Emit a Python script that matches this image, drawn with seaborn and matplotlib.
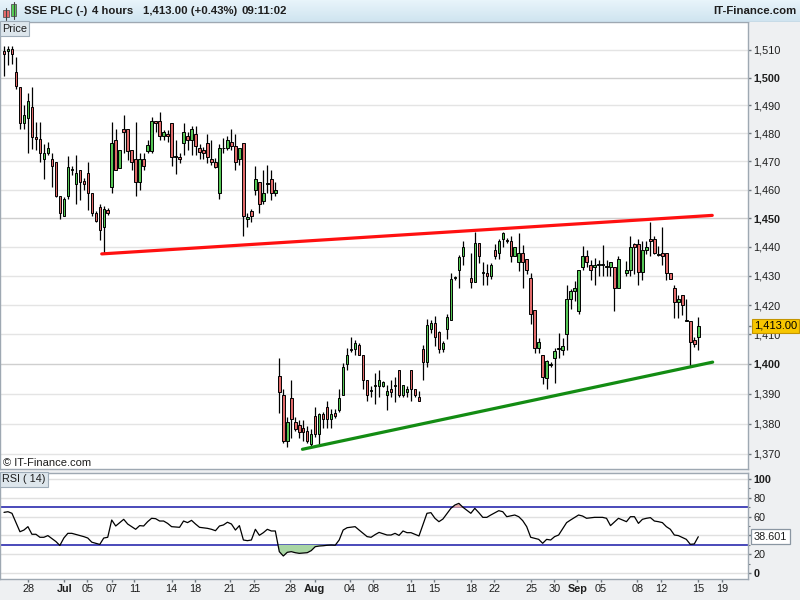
import numpy as np
import pandas as pd
import matplotlib
matplotlib.use("Agg")
import matplotlib.pyplot as plt
import seaborn as sns
from matplotlib.ticker import NullLocator, FixedLocator
from matplotlib.patches import Rectangle
from matplotlib.colors import LinearSegmentedColormap

nan = np.nan

# ---------------- data (4-hour candles, slot index = position in time) ----------------
opens = [1509.7, 1509.6, 1510.3, 1502.1, 1496.4, 1483.7, 1485.3, 1489.4, 1478.8, 1477.8,
         1470.8, 1472.8, 1470.8, 1469.7, 1457.9, 1450.7, 1457.7, 1467.0, 1462.0, 1467.0,
         1462.9, 1465.8, 1458.8, 1452.0, 1453.9, 1446.9, 1452.9, 1460.9, 1477.7, 1467.8,
         1481.6, 1481.6, 1474.0, 1470.7, 1462.6, 1470.7, 1473.8, 1473.8, 1484.5, 1484.5,
         1478.9, 1479.7, 1483.7, 1471.7, 1471.7, 1476.6, 1478.9, 1477.7, 1479.6, 1474.6,
         1474.0, 1476.7, 1470.7, 1469.9, 1458.8, 1474.6, 1474.6, 1476.8, 1475.6, 1470.7,
         1476.7, 1449.7, 1452.6, 1459.8, 1462.7, 1455.9, 1462.0, 1463.7, 1458.8, 1395.9,
         1389.6, 1374.3, 1388.6, 1380.6, 1379.4, 1378.4, 1377.5, 1373.3, 1382.4, 1376.4,
         1383.2, 1385.4, 1381.5, 1383.7, 1384.5, 1389.6, 1399.9, 1404.7, 1404.9, 1406.4,
         1403.0, 1394.7, 1391.0, 1392.7, 1392.6, 1392.6, 1389.6, 1391.7, 1392.7, 1397.9,
         1389.6, 1390.5, 1397.9, 1391.7, 1388.8, 1405.0, 1400.8, 1411.9, 1414.0, 1410.9,
         1405.1, 1411.9, 1414.9, 1429.2, 1432.0, 1436.8, nan, 1429.2, 1428.0, 1441.4,
         1431.1, 1431.1, 1430.0, 1439.1, 1438.0, 1442.6, 1442.3, 1442.2, 1436.8, 1434.9,
         1438.0, 1435.9, 1429.2, 1418.2, 1405.4, 1403.1, 1395.4, 1399.7, 1402.0, 1405.2,
         1404.8, 1410.0, 1422.1, 1424.7, 1417.8, 1433.1, 1436.8, 1433.8, 1433.1, 1433.7,
         1433.7, 1433.1, 1433.1, 1433.1, 1425.9, nan, 1431.0, 1432.2, 1441.0, 1441.1,
         1431.2, 1439.1, 1442.9, 1442.9, 1437.1, 1437.9, 1437.9, 1431.0, 1425.9, 1420.9,
         1423.3, 1414.7, 1414.7, 1408.1, 1409.0]
highs = [1511.5, 1511.5, 1511.5, 1507.6, 1496.6, 1490.0, 1494.4, 1496.4, 1483.9, 1483.9,
         1476.1, 1476.8, 1472.8, 1469.7, 1457.9, 1457.5, 1471.9, 1468.2, 1472.3, 1467.0,
         1464.1, 1469.7, 1458.8, 1452.4, 1455.1, 1454.2, 1453.6, 1483.9, 1481.6, 1474.0,
         1486.6, 1481.6, 1474.0, 1483.9, 1472.8, 1472.8, 1477.7, 1485.7, 1484.5, 1487.6,
         1481.2, 1481.0, 1483.7, 1477.5, 1472.8, 1483.6, 1480.4, 1482.7, 1482.7, 1476.3,
         1475.2, 1479.8, 1477.5, 1471.1, 1476.3, 1478.4, 1478.9, 1481.6, 1479.8, 1474.6,
         1476.7, 1451.8, 1453.2, 1468.2, 1462.7, 1467.0, 1468.7, 1467.0, 1462.8, 1401.9,
         1391.7, 1382.3, 1394.7, 1382.3, 1381.1, 1381.1, 1379.2, 1378.1, 1385.7, 1383.7,
         1384.0, 1387.7, 1384.9, 1384.9, 1391.7, 1400.2, 1405.3, 1409.2, 1408.1, 1407.2,
         1403.0, 1394.7, 1392.5, 1396.8, 1397.9, 1394.3, 1392.8, 1394.7, 1395.6, 1397.9,
         1392.8, 1392.5, 1397.9, 1391.7, 1390.8, 1406.5, 1415.1, 1414.9, 1416.3, 1411.2,
         1407.7, 1417.1, 1431.1, 1430.0, 1437.1, 1442.2, nan, 1438.0, 1445.2, 1441.4,
         1434.9, 1434.0, 1434.6, 1441.1, 1442.6, 1445.2, 1443.1, 1443.7, 1440.0, 1444.8,
         1440.8, 1435.9, 1431.1, 1418.2, 1408.8, 1403.1, 1401.4, 1400.8, 1405.4, 1410.6,
         1408.6, 1427.0, 1425.6, 1428.2, 1432.2, 1440.2, 1439.1, 1435.6, 1436.2, 1435.6,
         1440.8, 1435.6, 1434.8, 1433.1, 1436.8, nan, 1435.1, 1443.7, 1441.4, 1442.9,
         1442.0, 1442.0, 1448.8, 1443.7, 1440.2, 1447.1, 1437.9, 1431.0, 1426.8, 1423.3,
         1423.3, 1422.1, 1414.7, 1409.0, 1415.9]
lows = [1500.7, 1504.5, 1505.0, 1495.9, 1481.6, 1481.6, 1472.8, 1474.3, 1474.0, 1469.9,
        1463.7, 1472.3, 1460.9, 1457.5, 1449.7, 1450.7, 1456.7, 1465.3, 1455.1, 1456.5,
        1460.0, 1453.0, 1450.7, 1448.6, 1442.5, 1437.8, 1451.2, 1458.8, 1467.0, 1467.8,
        1472.8, 1470.5, 1467.0, 1457.7, 1459.8, 1467.0, 1472.8, 1472.8, 1480.4, 1477.7,
        1477.7, 1477.0, 1468.2, 1465.6, 1469.6, 1472.2, 1474.0, 1472.2, 1472.2, 1470.7,
        1470.7, 1469.3, 1468.7, 1467.6, 1456.7, 1472.8, 1474.0, 1474.0, 1466.8, 1468.7,
        1443.7, 1446.9, 1448.6, 1458.2, 1451.8, 1455.1, 1458.8, 1456.5, 1457.7, 1383.4,
        1373.5, 1372.4, 1375.2, 1377.5, 1375.2, 1374.1, 1373.5, 1372.4, 1375.5, 1373.0,
        1378.6, 1378.6, 1378.4, 1382.0, 1384.0, 1389.6, 1397.9, 1404.1, 1403.0, 1403.0,
        1391.7, 1387.5, 1388.8, 1386.6, 1388.8, 1392.2, 1384.5, 1388.8, 1387.1, 1388.8,
        1388.8, 1388.8, 1387.4, 1388.8, 1387.7, 1394.6, 1398.8, 1410.6, 1406.0, 1403.7,
        1403.9, 1408.3, 1414.9, 1428.6, 1426.0, 1433.6, nan, 1426.0, 1428.0, 1434.6,
        1426.8, 1426.8, 1429.1, 1435.7, 1435.7, 1440.0, 1441.4, 1434.9, 1436.8, 1431.7,
        1426.0, 1430.6, 1413.6, 1403.7, 1403.7, 1393.4, 1391.7, 1398.8, 1393.7, 1402.0,
        1402.9, 1404.6, 1418.6, 1421.3, 1416.9, 1432.2, 1433.0, 1428.7, 1426.8, 1429.9,
        1429.9, 1429.9, 1429.9, 1417.8, 1425.9, nan, 1429.9, 1429.9, 1430.5, 1427.0,
        1428.7, 1437.4, 1436.8, 1437.4, 1436.8, 1433.9, 1428.7, 1429.0, 1415.5, 1415.5,
        1416.7, 1414.4, 1399.2, 1405.7, 1404.6]
closes = [1508.5, 1510.2, 1508.5, 1496.9, 1483.6, 1486.6, 1491.5, 1478.7, 1477.8, 1472.8,
          1472.8, 1474.7, 1468.5, 1457.7, 1451.8, 1456.7, 1467.9, 1467.1, 1465.8, 1462.7,
          1462.0, 1458.8, 1451.8, 1448.9, 1445.8, 1453.2, 1451.8, 1476.7, 1467.0, 1474.0,
          1480.4, 1473.8, 1469.7, 1462.6, 1470.7, 1468.5, 1475.8, 1484.5, 1483.8, 1478.9,
          1480.4, 1478.9, 1471.7, 1471.9, 1470.7, 1480.4, 1477.7, 1481.6, 1475.5, 1473.2,
          1472.8, 1471.7, 1469.7, 1467.9, 1474.6, 1474.8, 1477.7, 1475.5, 1469.7, 1474.6,
          1450.7, 1450.4, 1450.7, 1463.7, 1455.0, 1458.8, 1462.2, 1458.8, 1460.0, 1390.5,
          1374.3, 1380.6, 1381.5, 1378.3, 1377.3, 1377.3, 1374.1, 1376.4, 1376.4, 1383.2,
          1381.5, 1381.5, 1383.2, 1382.6, 1388.6, 1399.0, 1403.0, 1404.9, 1407.0, 1403.0,
          1394.7, 1389.6, 1391.2, 1392.9, 1394.7, 1393.9, 1390.8, 1390.5, 1392.9, 1389.6,
          1392.8, 1391.7, 1391.7, 1389.6, 1387.7, 1400.8, 1413.1, 1414.0, 1409.2, 1405.1,
          1407.1, 1416.0, 1429.1, 1429.4, 1436.6, 1440.0, nan, 1428.0, 1441.4, 1436.8,
          1431.3, 1430.0, 1433.8, 1436.8, 1442.2, 1444.8, 1442.1, 1436.8, 1440.0, 1438.0,
          1434.9, 1432.0, 1417.1, 1405.4, 1407.4, 1395.7, 1401.1, 1399.9, 1404.3, 1405.3,
          1406.0, 1422.1, 1424.7, 1425.9, 1432.2, 1436.8, 1434.8, 1432.2, 1433.8, 1433.8,
          1433.8, 1433.2, 1434.8, 1425.9, 1436.0, nan, 1432.2, 1440.0, 1440.0, 1431.2,
          1439.1, 1440.0, 1442.0, 1437.9, 1437.2, 1436.8, 1431.0, 1429.0, 1421.0, 1422.1,
          1420.1, 1414.8, 1407.3, 1406.9, 1413.0]

# RSI(14): slot index and value
rsi_idx = [0, 1, 2, 4, 5, 6, 7, 8, 9, 10, 11, 13, 14, 15, 16, 17, 19, 20, 21, 22,
           24, 25, 26, 27, 28, 29, 30, 31, 33, 34, 35, 36, 37, 38, 39, 40, 41, 42, 44, 45,
           46, 47, 48, 49, 51, 52, 53, 54, 55, 56, 57, 58, 59, 60, 61, 62, 63, 64, 65, 66,
           67, 68, 69, 70, 71, 72, 73, 74, 76, 77, 78, 79, 80, 81, 82, 83, 84, 85, 86, 88,
           89, 91, 92, 93, 94, 96, 97, 98, 99, 100, 101, 102, 104, 106, 107, 108, 109, 110, 112, 113,
           114, 115, 117, 118, 119, 120, 121, 122, 124, 125, 126, 128, 129, 130, 131, 132, 134, 135, 136, 137,
           138, 139, 141, 142, 144, 145, 146, 148, 150, 151, 152, 154, 155, 156, 157, 158, 159, 160, 161, 162,
           163, 164, 165, 166, 167, 168, 169, 171, 172, 173, 174]
rsi_val = [64.5, 65.2, 63.5, 43.9, 45.7, 49.3, 41.2, 41.2, 38.0, 38.0, 39.8, 33.5, 29.3, 37.2, 42.2, 42.2, 39.8, 38.7, 37.2, 32.8,
           30.4, 37.2, 38.0, 56.4, 50.0, 53.6, 57.1, 52.1, 46.5, 50.4, 50.0, 54.6, 58.2, 57.8, 55.3, 55.3, 52.8, 49.3, 48.6, 55.3,
           53.6, 56.0, 52.1, 48.6, 47.5, 46.5, 45.0, 50.0, 51.1, 54.0, 52.1, 45.7, 50.4, 35.1, 34.4, 35.1, 46.5, 40.1, 42.9, 46.5,
           44.7, 44.7, 22.7, 18.1, 22.0, 22.7, 21.6, 20.9, 21.6, 23.8, 28.0, 28.7, 29.0, 29.5, 29.8, 29.5, 35.1, 45.7, 48.2, 49.3,
           45.7, 38.7, 38.0, 40.8, 43.2, 40.4, 40.4, 42.2, 40.0, 44.7, 42.9, 42.9, 39.4, 63.5, 64.2, 58.2, 54.6, 57.4, 68.8, 72.3,
           74.1, 70.0, 63.5, 68.8, 64.2, 59.2, 59.2, 61.7, 66.3, 65.2, 59.9, 61.7, 59.9, 55.7, 49.3, 38.0, 35.8, 31.6, 35.8, 35.1,
           38.7, 40.4, 53.6, 56.4, 61.7, 60.6, 58.2, 59.2, 59.2, 58.2, 50.4, 58.2, 56.4, 54.6, 59.9, 59.9, 52.8, 57.1, 58.2, 58.9,
           55.3, 54.6, 53.6, 49.3, 46.5, 40.4, 39.8, 35.8, 30.5, 30.9, 38.6]
rsi_last = 38.601

# hand-drawn trend lines (slot index, price)
res_x = [24.5, 177.5]
res_y = [1437.6, 1451.0]
sup_x = [74.8, 177.6]
sup_y = [1371.5, 1400.6]

price_ticks = [1370, 1380, 1390, 1400, 1410, 1420, 1430, 1440, 1450, 1460, 1470, 1480, 1490, 1500, 1510]
date_pos = [6.1, 15.1, 20.9, 27.0, 32.7, 42.0, 47.9, 56.6, 62.7, 71.7, 77.9, 86.7, 92.6,
            101.9, 107.8, 117.0, 122.9, 132.1, 137.9, 143.7, 149.6, 158.7, 164.6, 173.9, 179.9]
date_labels = ["28", "Jul", "05", "07", "11", "14", "18", "21", "25", "28", "Aug", "04", "08",
               "11", "15", "18", "22", "25", "30", "Sep", "05", "08", "12", "15", "19"]
month_labels = {"Jul", "Aug", "Sep"}

title_parts = ["SSE PLC (-)", "4 hours", "1,413.00 (+0.43%)", "09:11:02"]

# ---------------- style ----------------
sns.set_theme(style="white")
plt.rcParams['font.family'] = ['Liberation Sans', 'DejaVu Sans']
plt.rcParams['axes.linewidth'] = 1.0

BG = '#eef0f2'
SPINE = '#9ea8b2'
TXT = '#1e1e1e'
GREEN = '#55c655'
RED = '#e06a6a'
FS = 7.8

fig = plt.figure(figsize=(8, 6), dpi=100, facecolor=BG)
ax = fig.add_axes([0.0, 1 - 469 / 600, 748 / 800, 447 / 600])
ax2 = fig.add_axes([0.0, 1 - 579.3 / 600, 748 / 800, 106.6 / 600])

xlim = (-1.0, 186.46)

# ---------------- price panel ----------------
ax.set_facecolor('white')
ax.set_yscale('log')
ax.set_ylim(1365.0, 1520.2)
ax.set_xlim(*xlim)

for v in price_ticks:
    ax.axhline(v, color='#cfcfcf' if v % 50 == 0 else '#e4e4e4', lw=1.0, zorder=0)

df = pd.DataFrame(dict(i=np.arange(len(opens)), o=opens, h=highs, l=lows, c=closes)).dropna()
up = df.c >= df.o
body_lo = np.minimum(df.o, df.c)
body_h = np.maximum((df.c - df.o).abs(), 0.3)
ax.vlines(df.i, df.l, df.h, color='black', lw=0.9, zorder=2)
ax.bar(df.i[up], body_h[up], bottom=body_lo[up], width=0.62, color=GREEN,
       edgecolor='black', linewidth=0.7, zorder=3)
ax.bar(df.i[~up], body_h[~up], bottom=body_lo[~up], width=0.62, color=RED,
       edgecolor='black', linewidth=0.7, zorder=3)

sns.lineplot(x=res_x, y=res_y, ax=ax, color='#ff1010', lw=2.3, zorder=4)
sns.lineplot(x=sup_x, y=sup_y, ax=ax, color='#138c13', lw=2.3, zorder=4)

ax.yaxis.tick_right()
ax.set_yticks(price_ticks + [closes[-1]],
              labels=[f"{v:,}" for v in price_ticks] + [""])
ax.yaxis.set_minor_locator(NullLocator())
for lbl, v in zip(ax.get_yticklabels(), price_ticks):
    if v % 50 == 0:
        lbl.set_fontweight('bold')
ax.tick_params(axis='y', which='major', direction='out', length=2.4, width=1,
               color='#6f7880', labelsize=FS, labelcolor=TXT, pad=1.3, right=True, left=False)
ax.set_xticks([])
ax.set_xlabel('')
ax.set_ylabel('')
for s in ax.spines.values():
    s.set_color(SPINE)

ax.annotate(f"{closes[-1]:,.2f}", xy=(1.0, closes[-1]), xycoords=('axes fraction', 'data'),
            xytext=(4.2, 0), textcoords='offset points', ha='left', va='center',
            fontsize=8, color='black', annotation_clip=False, zorder=20,
            bbox=dict(boxstyle='square,pad=0.18', fc='#f7c600', ec='#c49500', lw=0.8))

# ---------------- RSI panel ----------------
ax2.set_facecolor('white')
ax2.set_xlim(*xlim)
ax2.set_ylim(-6.7, 106.7)
for v in [0, 20, 40, 60, 80, 100]:
    ax2.axhline(v, color='#e0e0e0', lw=1.0, zorder=0)
ax2.axhline(70, color='#2a2aae', lw=1.2, zorder=1)
ax2.axhline(30, color='#2a2aae', lw=1.2, zorder=1)

r = np.array(rsi_val)
ri = np.array(rsi_idx, dtype=float)
ax2.fill_between(ri, r, 30, where=r < 30, interpolate=True, color='#a9d6a4', lw=0, zorder=1)
ax2.fill_between(ri, r, 70, where=r > 70, interpolate=True, color='#e3a9a9', lw=0, zorder=1)
sns.lineplot(x=ri, y=r, ax=ax2, color='black', lw=0.9, estimator=None, sort=False, zorder=3)

ax2.yaxis.tick_right()
ax2.set_yticks([0, 20, 40, 60, 80, 100], labels=['0', '20', '', '60', '80', '100'])
ax2.yaxis.set_minor_locator(FixedLocator([10, 30, 50, 70, 90]))
for lbl in ax2.get_yticklabels():
    if lbl.get_text() in ('0', '100'):
        lbl.set_fontweight('bold')
ax2.tick_params(axis='y', which='major', direction='out', length=2.4, width=1,
                color='#6f7880', labelsize=FS, labelcolor=TXT, pad=1.3, right=True, left=False)
ax2.tick_params(axis='y', which='minor', direction='out', length=1.6, width=0.8,
                color='#6f7880', right=True, left=False)
ax2.set_xticks(date_pos, labels=date_labels)
for lbl in ax2.get_xticklabels():
    if lbl.get_text() in month_labels:
        lbl.set_fontweight('bold')
ax2.tick_params(axis='x', direction='out', length=2.2, width=1, color='#6f7880',
                labelsize=FS, labelcolor=TXT, pad=1.5, bottom=True)
ax2.set_xlabel('')
ax2.set_ylabel('')
for s in ax2.spines.values():
    s.set_color(SPINE)

ax2.annotate(f"{rsi_last:.3f}", xy=(1.0, rsi_last), xycoords=('axes fraction', 'data'),
             xytext=(4.2, 0), textcoords='offset points', ha='left', va='center',
             fontsize=FS, color=TXT, annotation_clip=False, zorder=20,
             bbox=dict(boxstyle='square,pad=0.22', fc='white', ec='#8a96a2', lw=0.9))

# ---------------- chrome: title bar and panel captions (pixel coordinates) ----------------
axt = fig.add_axes([0, 1 - 22 / 600, 1, 22 / 600])
grad = np.linspace(0, 1, 22)[:, None]
axt.imshow(grad, aspect='auto', extent=[0, 800, 22, 0],
           cmap=LinearSegmentedColormap.from_list('bar', ['#e8f4fa', '#cfe4f0']))
axt.set_xlim(0, 800)
axt.set_ylim(22, 0)
axt.axis('off')
axt.axhline(21.5, color='#a9b9c4', lw=1)
# small candle icon
axt.plot([6, 6], [8, 20], color='#444444', lw=0.8)
axt.add_patch(Rectangle((3.3, 10), 5.4, 6.7, fc='#e86a6a', ec='#555555', lw=0.6))
axt.plot([13.5, 13.5], [2, 19], color='#444444', lw=0.8)
axt.add_patch(Rectangle((11, 4), 5, 12, fc='#55d055', ec='#555555', lw=0.6))
for xpos, txt in zip([24, 92, 143, 241], title_parts):
    axt.text(xpos, 11.5, txt, ha='left', va='center', fontsize=8.2, fontweight='bold', color=TXT)
axt.text(797, 11.5, "IT-Finance.com", ha='right', va='center', fontsize=8.2,
         fontweight='bold', color=TXT)

axo = fig.add_axes([0, 0, 1, 1], zorder=10)
axo.set_xlim(0, 800)
axo.set_ylim(600, 0)
axo.axis('off')
axo.patch.set_alpha(0)
axo.text(2, 28.5, "Price", ha='left', va='center', fontsize=FS, color=TXT,
         bbox=dict(boxstyle='square,pad=0.2', fc='#dde6ec', ec='#9eacb8', lw=0.8))
axo.text(2, 479.5, "RSI ( 14)", ha='left', va='center', fontsize=FS, color=TXT,
         bbox=dict(boxstyle='square,pad=0.2', fc='#dde6ec', ec='#9eacb8', lw=0.8))
axo.text(3, 463.5, "\u00a9 IT-Finance.com", ha='left', va='center', fontsize=8, color=TXT)

fig.savefig("out.png", dpi=100, facecolor=BG)
